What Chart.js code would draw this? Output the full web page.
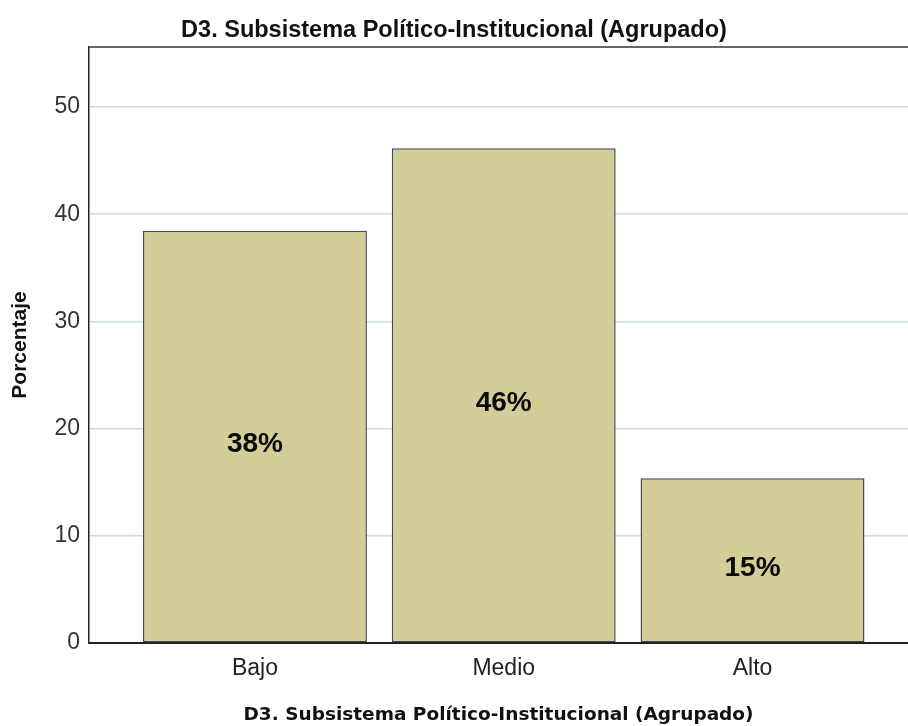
<!DOCTYPE html>
<html>
<head>
<meta charset="utf-8">
<script src="https://cdn.jsdelivr.net/npm/chart.js@4/dist/chart.umd.min.js"></script>
<style>
  html, body { margin: 0; padding: 0; background: #ffffff; }
  #wrap { width: 908px; height: 726px; }
</style>
</head>
<body>
<div id="wrap"><canvas id="c" width="908" height="726"></canvas></div>
<script>
const chartTitle = "D3. Subsistema Político-Institucional (Agrupado)";
const xAxisTitle = "D3. Subsistema Político-Institucional (Agrupado)";
const yAxisTitle = "Porcentaje";
const categories = ["Bajo", "Medio", "Alto"];
const percentages = [38.46, 46.15, 15.38];
const yTicks = [0, 10, 20, 30, 40, 50];

const points = categories.map((c, i) => ({ x: i, y: percentages[i] }));

const barLabels = {
  id: 'barLabels',
  afterDatasetsDraw(chart) {
    const ctx = chart.ctx;
    const meta = chart.getDatasetMeta(0);
    ctx.save();
    ctx.font = 'bold 28px "Liberation Sans", Arial, sans-serif';
    ctx.fillStyle = '#0a0a0a';
    ctx.textAlign = 'center';
    ctx.textBaseline = 'middle';
    meta.data.forEach((bar, i) => {
      const v = percentages[i];
      const yMid = (bar.y + bar.base) / 2 + 8;
      ctx.fillText(Math.round(v) + '%', bar.x, yMid);
    });
    ctx.restore();
  }
};

const topBorder = {
  id: 'topBorder',
  afterDraw(chart) {
    const a = chart.chartArea;
    const ctx = chart.ctx;
    ctx.save();
    ctx.strokeStyle = '#666666';
    ctx.lineWidth = 2;
    ctx.beginPath();
    ctx.moveTo(a.left, a.top);
    ctx.lineTo(chart.width, a.top);
    ctx.stroke();
    ctx.restore();
  }
};

new Chart(document.getElementById('c'), {
  type: 'bar',
  data: {
    datasets: [{
      data: points,
      backgroundColor: '#d3ce98',
      borderColor: '#4a4a4a',
      borderWidth: 1.5,
      borderSkipped: false,
      categoryPercentage: 1.0,
      barPercentage: 0.9
    }]
  },
  options: {
    responsive: false,
    animation: false,
    devicePixelRatio: 1,
    layout: { padding: { left: 0, right: 0, top: 0, bottom: 0 } },
    plugins: {
      legend: { display: false },
      tooltip: { enabled: false },
      title: {
        display: true,
        text: chartTitle,
        color: '#111111',
        font: { family: '"Liberation Sans", Arial, sans-serif', size: 23.5, weight: 'bold', lineHeight: 1.2 },
        padding: { top: 16, bottom: 2.8 }
      }
    },
    scales: {
      x: {
        type: 'linear',
        min: -0.667,
        max: 2.625,
        offset: false,
        grid: { display: false, drawTicks: false },
        border: { display: true, color: '#222222', width: 2 },
        afterBuildTicks: (scale) => { scale.ticks = categories.map((c, i) => ({ value: i })); },
        afterFit: (scale) => { scale.height = 83; },
        ticks: {
          autoSkip: false,
          maxRotation: 0,
          padding: 12,
          color: '#222222',
          font: { family: '"Liberation Sans", Arial, sans-serif', size: 23 },
          callback: (v) => categories[v] !== undefined ? categories[v] : ''
        },
        title: {
          display: true,
          text: xAxisTitle,
          color: '#111111',
          font: { family: '"DejaVu Sans", sans-serif', size: 18.5, weight: 'bold', lineHeight: 1.2 },
          padding: { top: 0, bottom: 0 }
        }
      },
      y: {
        type: 'linear',
        min: 0,
        max: 55.6,
        grid: { color: '#c5dbe8', lineWidth: 1.5, drawTicks: false },
        border: { display: true, color: '#222222', width: 1.5 },
        afterBuildTicks: (scale) => { scale.ticks = yTicks.map(v => ({ value: v })); },
        afterFit: (scale) => { scale.width = 89; },
        ticks: {
          padding: 9,
          color: '#333333',
          font: { family: '"Liberation Sans", Arial, sans-serif', size: 23 }
        },
        title: {
          display: true,
          text: yAxisTitle,
          color: '#111111',
          font: { family: '"Liberation Sans", Arial, sans-serif', size: 21, weight: 'bold', lineHeight: 1.2 },
          padding: { top: 8, bottom: 0 }
        }
      }
    }
  },
  plugins: [barLabels, topBorder]
});
</script>
</body>
</html>
